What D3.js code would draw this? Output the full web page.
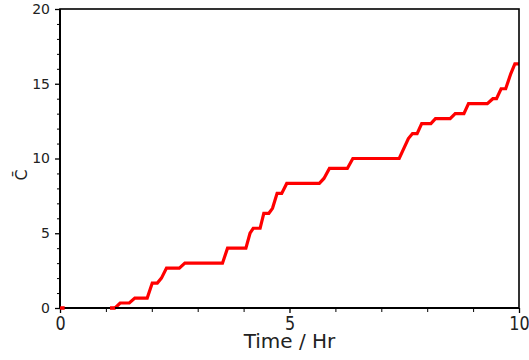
<!DOCTYPE html>
<html>
<head>
<meta charset="utf-8">
<script src="https://cdn.jsdelivr.net/npm/d3@7"></script>
<style>
  html, body { margin: 0; padding: 0; background: #fff; }
  svg { display: block; font-family: "DejaVu Sans", sans-serif; }
</style>
</head>
<body>
<svg id="chart" width="529" height="360"></svg>
<script>
// ---- data ----
const timeHr = [0, 0.1, null,
  1.09, 1.2, 1.31, 1.51, 1.63, 1.9, 2.01, 2.12, 2.21, 2.32, 2.6, 2.72, 3.54, 3.65,
  4.05, 4.14, 4.21, 4.36, 4.44, 4.55, 4.63, 4.73, 4.83, 4.94, 5.65, 5.75, 5.87,
  6.26, 6.38, 7.39, 7.59, 7.68, 7.78, 7.88, 8.08, 8.18, 8.5, 8.61, 8.8, 8.9,
  9.31, 9.43, 9.51, 9.61, 9.71, 9.82, 9.91, 10];
const cBar = [0, 0, null,
  0, 0, 1/3, 1/3, 2/3, 2/3, 5/3, 5/3, 2, 8/3, 8/3, 3, 3, 4,
  4, 5, 16/3, 16/3, 19/3, 19/3, 20/3, 23/3, 23/3, 25/3, 25/3, 26/3, 28/3,
  28/3, 10, 10, 34/3, 35/3, 35/3, 37/3, 37/3, 38/3, 38/3, 13, 13, 41/3,
  41/3, 14, 14, 44/3, 44/3, 47/3, 49/3, 49/3];
const xTicks = [0, 5, 10];
const yTicks = [0, 5, 10, 15, 20];
const xLabel = "Time / Hr";
const yLabel = "C\u0304";

const svg = d3.select("#chart");
const mLeft = 60, mRight = 519, mTop = 9, mBottom = 308;
const x = d3.scaleLinear().domain([0, 10]).range([mLeft, mRight]);
const y = d3.scaleLinear().domain([0, 20]).range([mBottom, mTop]);

const pts = timeHr.map((t, i) => ({t, v: cBar[i]}));

const line = d3.line()
  .defined(d => d.t !== null && d.v !== null)
  .x(d => x(d.t)).y(d => y(d.v));

svg.append("path")
  .datum(pts)
  .attr("fill", "none")
  .attr("stroke", "#ff0000")
  .attr("stroke-width", 3.2)
  .attr("stroke-linejoin", "miter")
  .attr("d", line);

// minor ticks
const minorX = d3.range(0, 11).filter(v => v % 5 !== 0);
const minorY = d3.range(0, 21).filter(v => v % 5 !== 0);

const xMinor = svg.append("g").attr("transform", `translate(0,${mBottom})`)
  .call(d3.axisBottom(x).tickValues(minorX).tickSize(4).tickFormat(""));
xMinor.select(".domain").remove();
xMinor.selectAll("line").attr("stroke", "#000").attr("stroke-width", 1);

const yMinor = svg.append("g").attr("transform", `translate(${mLeft},0)`)
  .call(d3.axisLeft(y).tickValues(minorY).tickSize(3).tickFormat(""));
yMinor.select(".domain").remove();
yMinor.selectAll("line").attr("stroke", "#000").attr("stroke-width", 1);

// major axes
const xAxis = svg.append("g").attr("transform", `translate(0,${mBottom})`)
  .call(d3.axisBottom(x).tickValues(xTicks).tickSize(5).tickFormat(d3.format("d")));
xAxis.select(".domain").remove();
xAxis.selectAll("line").attr("stroke", "#000").attr("stroke-width", 1.3);
xAxis.selectAll("text")
  .attr("fill", "#222")
  .attr("font-size", 16)
  .attr("font-family", "DejaVu Sans")
  .attr("y", 18.4).attr("dy", 0)
  .attr("transform", "scale(1,1.2)");

const yAxis = svg.append("g").attr("transform", `translate(${mLeft},0)`)
  .call(d3.axisLeft(y).tickValues(yTicks).tickSize(5).tickPadding(5).tickFormat(d3.format("d")));
yAxis.select(".domain").remove();
yAxis.selectAll("line").attr("stroke", "#000").attr("stroke-width", 1.3);
yAxis.selectAll("text")
  .attr("fill", "#222")
  .attr("font-size", 14)
  .attr("font-family", "DejaVu Sans");

// spines (frame)
svg.append("rect")
  .attr("x", mLeft).attr("y", mTop)
  .attr("width", mRight - mLeft).attr("height", mBottom - mTop)
  .attr("fill", "none").attr("stroke", "#000").attr("stroke-width", 1.6);
svg.append("line").attr("x1", mLeft).attr("x2", mLeft).attr("y1", mTop).attr("y2", mBottom + 1)
  .attr("stroke", "#000").attr("stroke-width", 2);
svg.append("line").attr("x1", mLeft - 1).attr("x2", mRight).attr("y1", mBottom).attr("y2", mBottom)
  .attr("stroke", "#000").attr("stroke-width", 2);

// visible red at the start, over the spine (as in reference)
svg.append("path")
  .datum(pts.slice(0, 2))
  .attr("fill", "none").attr("stroke", "#ff0000").attr("stroke-width", 3.2)
  .attr("d", line);
svg.append("path")
  .datum(pts.slice(3, 5))
  .attr("fill", "none").attr("stroke", "#ff0000").attr("stroke-width", 3.2)
  .attr("d", line);

// labels
svg.append("text")
  .attr("x", (mLeft + mRight) / 2).attr("y", 348)
  .attr("text-anchor", "middle")
  .attr("font-size", 20)
  .attr("fill", "#222")
  .text(xLabel);

svg.append("text")
  .attr("transform", "translate(27,175) rotate(-90)")
  .attr("text-anchor", "middle")
  .attr("font-size", 16)
  .attr("fill", "#222")
  .text(yLabel);
</script>
</body>
</html>
